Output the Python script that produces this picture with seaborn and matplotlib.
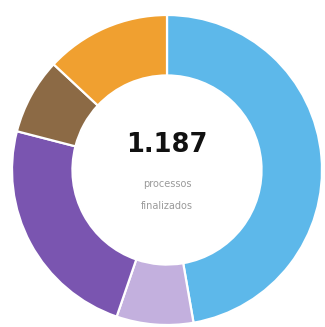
import matplotlib
matplotlib.use("Agg")
import matplotlib.pyplot as plt
import seaborn as sns

# Finished cases by category (sums to the total shown in the centre)
categories = ["Categoria A", "Categoria B", "Categoria C", "Categoria D", "Categoria E"]
values = [561, 95, 282, 94, 155]
colors = ["#5DB8EA", "#C3B0DE", "#7A55B0", "#8C6A45", "#F0A030"]
total_label = "1.187"
caption_lines = ["processos", "finalizados"]

sns.set_theme(style="white")
palette = sns.color_palette(colors)

W, H = 325, 327
fig = plt.figure(figsize=(W / 100, H / 100), dpi=100)
fig.patch.set_facecolor("white")

# donut: centre at (167, 170) px from top-left, outer radius 155 px
cx, cy, r = 167, 170, 155
ax = fig.add_axes([(cx - r) / W, (H - cy - r) / H, 2 * r / W, 2 * r / H])
ax.pie(values, colors=palette, startangle=90, counterclock=False,
       radius=1.0,
       wedgeprops=dict(width=0.39, edgecolor="white", linewidth=1.6))
ax.set_xlim(-1, 1)
ax.set_ylim(-1, 1)
ax.set_aspect("equal")
ax.axis("off")

ax.text(0, 0.16, total_label, ha="center", va="center",
        fontsize=18.5, fontweight="bold", color="#111111", family="DejaVu Sans")
ax.text(0, -0.09, caption_lines[0], ha="center", va="center",
        fontsize=7, color="#9a9a9a")
ax.text(0, -0.23, caption_lines[1], ha="center", va="center",
        fontsize=7, color="#9a9a9a")

fig.savefig("out.png", dpi=100, facecolor="white")
